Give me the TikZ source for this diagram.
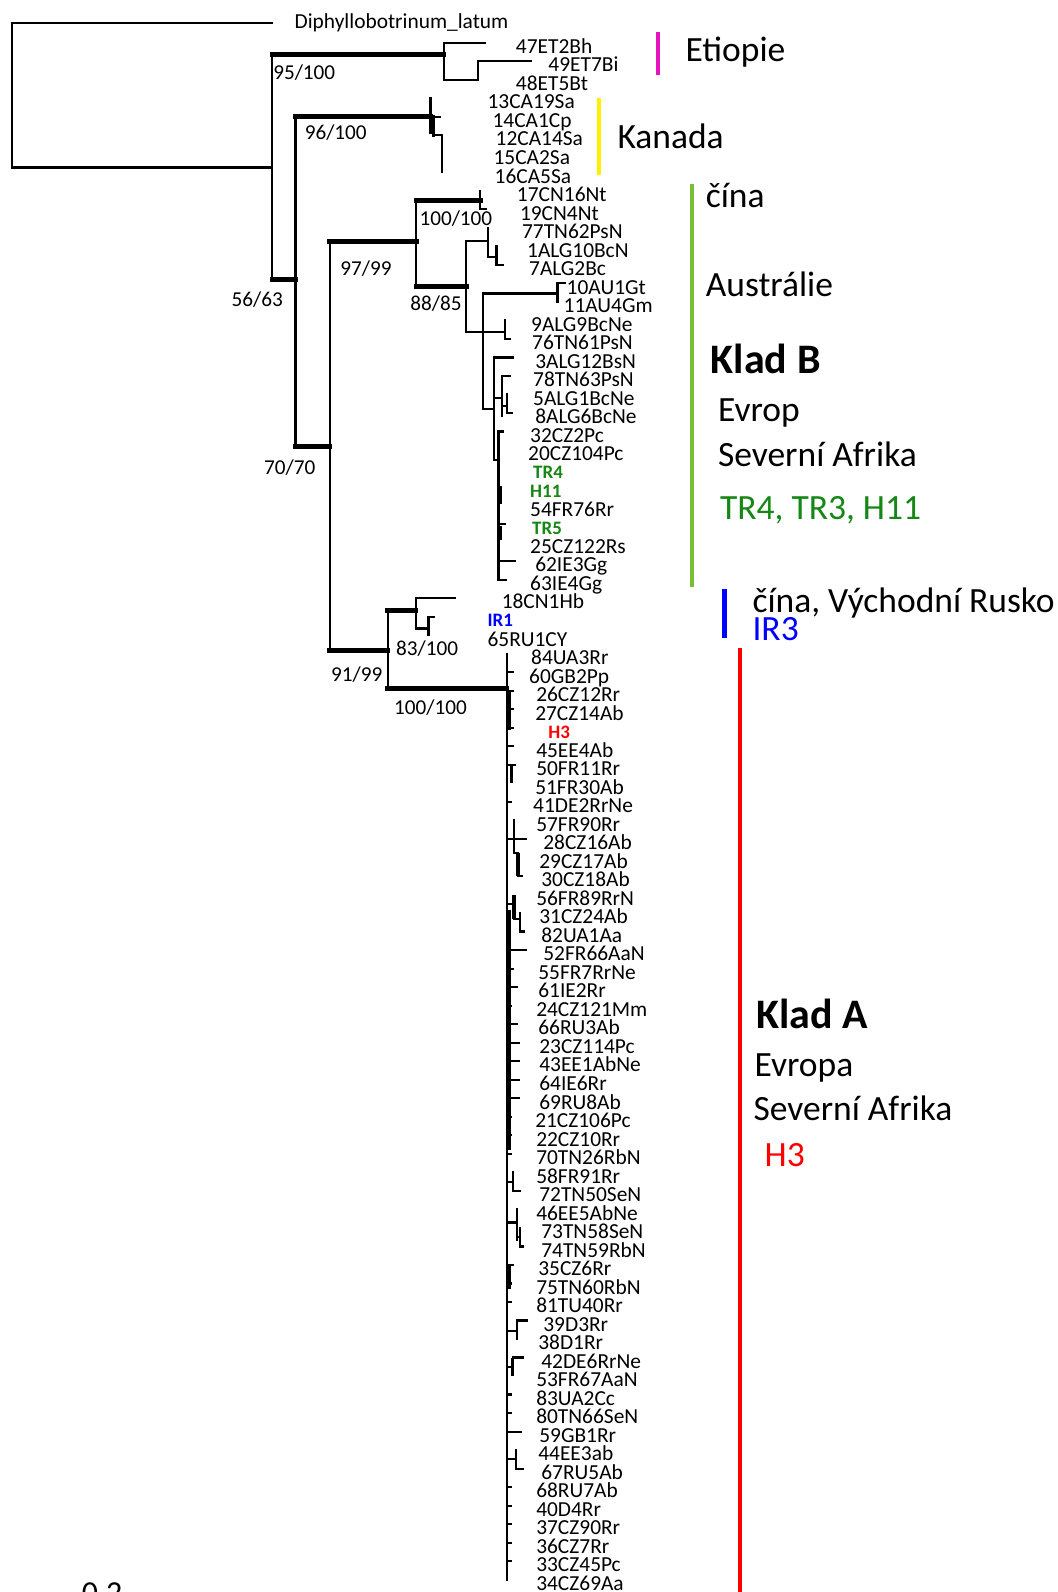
\documentclass[tikz,border=0pt]{standalone}
\usepackage{fontspec}
\setmainfont{Carlito}
\definecolor{magC}{RGB}{230,20,190}
\definecolor{yelC}{RGB}{255,240,0}
\definecolor{lgrC}{RGB}{120,190,50}
\definecolor{dgrC}{RGB}{20,135,20}
\definecolor{bluC}{RGB}{0,0,255}
\definecolor{redC}{RGB}{255,0,0}
\begin{document}
\begin{tikzpicture}[x=1.0154pt,y=-1.0154pt,
  declare function={ry(\n)=46+(\n-2)*18.24; tp(\n)=ry(\n)-4;},
  br/.style={line width=2.2pt,line cap=rect},
  tb/.style={line width=5pt,line cap=rect},
  mb/.style={line width=3.5pt,line cap=rect},
  lf/.style={anchor=base west,inner sep=0pt,font=\fontsize{21.4}{24}\selectfont},
  cl/.style={anchor=base west,inner sep=0pt,font=\fontsize{19}{22}\selectfont\bfseries},
  bs/.style={anchor=base west,inner sep=0pt,font=\fontsize{21.2}{24}\selectfont},
  ann/.style={anchor=base west,inner sep=0pt,font=\fontsize{35.5}{40}\selectfont},
  klad/.style={anchor=base west,inner sep=0pt,font=\fontsize{42}{48}\selectfont\bfseries},
  bar/.style={line width=4pt}]
\useasboundingbox (0,0) rectangle (1042,1568);
\clip (0,0) rectangle (1042,1568);
\fill[white] (0,0) rectangle (1042,1568);

% ---------- tree ----------
% root
\draw[br] (268,23) -- (12,23) -- (12,165) -- (268,165);
\draw[br] (268,54) -- (268,275);
% Etiopie
\draw[tb] (268,54) -- (437,54);
\draw[br] (478,{tp(2)}) -- (437,{tp(2)}) -- (437,{tp(4)}) -- (471,{tp(4)});
\draw[br] (471,{tp(4)}) -- (471,{tp(3)}) -- (523,{tp(3)});
% A -> B
\draw[tb] (268,275) -- (291,275);
\draw[br] (291,115) -- (291,440);
% Kanada
\draw[tb] (291,115) -- (424,115);
\draw[br] (424,{tp(5)}) -- (424,131);
\draw[br] (424,{tp(6)}) -- (433,{tp(6)});
\draw[mb] (427,{tp(6)}) -- (427,{tp(7)});
\draw[br] (427,{tp(7)}) -- (435,{tp(7)}) -- (435,{tp(9)});
% B -> C
\draw[tb] (291,440) -- (325,440);
\draw[br] (325,238) -- (325,641);
% Klad B
\draw[tb] (325,238) -- (410,238);
\draw[br] (410,197) -- (410,282);
\draw[tb] (410,197) -- (473,197);
\draw[br] (473,{tp(10)}) -- (473,{tp(11)}) -- (479,{tp(11)});
\draw[tb] (410,282) -- (459,282);
\draw[br] (459,237) -- (459,327);
\draw[br] (459,237) -- (481,237);
\draw[br] (481,{tp(12)}) -- (481,253) -- (489,253);
\draw[br] (489,{tp(13)}) -- (489,{tp(14)}) -- (495,{tp(14)});
\draw[br] (459,327) -- (497,327);
\draw[br] (497,{tp(17)}) -- (497,{tp(18)}) -- (502,{tp(18)});
\draw[br] (476,289) -- (476,403) -- (486.5,403);
\draw[br] (476,289) -- (549,289);
\draw[br] (549,{tp(15)}) -- (549,{tp(16)});
\draw[br] (549,{tp(15)}) -- (556,{tp(15)});
\draw[br] (486.5,{tp(19)}) -- (486.5,453);
\draw[br] (486.5,{tp(19)}) -- (505,{tp(19)});
\draw[br] (486.5,392) -- (494.5,392);
\draw[br] (494.5,{tp(20)}) -- (494.5,410);
\draw[br] (494.5,{tp(20)}) -- (502,{tp(20)});
\draw[br] (494.5,400) -- (499,400);
\draw[br] (499,{tp(21)}) -- (499,{tp(22)}) -- (504,{tp(22)});
\draw[br] (486.5,453) -- (491,453);
\draw[br] (491,{tp(23)}) -- (491,{tp(31)}) -- (498,{tp(31)});
\draw[br] (491,{tp(23)}) -- (495,{tp(23)});
\draw[line width=3.5pt] (493,479) -- (493,496);
\draw[line width=3.5pt] (493,518) -- (493,532);
\draw[br] (491,{tp(28)}) -- (497,{tp(28)});
\draw[br] (491,{tp(30)}) -- (507,{tp(30)});
% C -> P
\draw[tb] (325,641) -- (382,641);
\draw[br] (382,601) -- (382,678);
\draw[tb] (382,601) -- (409.5,601);
\draw[br] (448,{tp(32)}) -- (409.5,{tp(32)}) -- (409.5,619) -- (422,619);
\draw[br] (422,{tp(33)}) -- (422,{tp(34)});
\draw[br] (422,{tp(33)}) -- (427,{tp(33)});
% Klad A
\draw[tb] (382,678) -- (499,678);
\draw[br] (499,{tp(35)}) -- (499,{tp(85)});
\draw[line width=4.5pt] (501,681) -- (501,719);
\draw[line width=4.5pt] (501,896) -- (501,1133);
\draw[line width=4.5pt] (501,1247) -- (501,1270);
\foreach \r/\l in {36/6,37/6,38/6,39/6,40/6,43/4,52/6,53/10,54/4,55/10,56/12,57/12,58/12,59/12,60/4,61/4,62/4,68/6,69/4,70/4,75/4,76/4,77/14,80/4,81/4,82/4,83/4,84/4,51/19}
  \draw[br] (499,{tp(\r)}) -- ++(\l,0);
% rows 41-42
\draw[br] (499,{tp(41)}) -- (507,{tp(41)});
\draw[line width=3.5pt] (504,{tp(41)}) -- (504,{tp(42)});
% rows 44-47
\draw[br] (499,826) -- (506,826);
\draw[br] (506,{tp(44)}) -- (506,840);
\draw[br] (506,{tp(45)}) -- (518,{tp(45)});
\draw[br] (506,840) -- (510,840);
\draw[line width=3.5pt] (510,{tp(46)-4}) -- (510,{tp(47)});
\draw[br] (510,{tp(47)}) -- (514,{tp(47)});
% rows 48-50
\draw[br] (499,890) -- (506,890);
\draw[line width=3.5pt] (506,{tp(48)}) -- (506,905);
\draw[br] (506,905) -- (512,905);
\draw[br] (512,{tp(49)}) -- (512,{tp(50)}) -- (516,{tp(50)});
% rows 63-64
\draw[br] (499,1164) -- (505,1164);
\draw[br] (505,{tp(63)}) -- (505,{tp(64)}) -- (512,{tp(64)});
% rows 65-67
\draw[br] (499,1204) -- (509,1204);
\draw[br] (509,{tp(65)}) -- (509,1221);
\draw[br] (509,1218) -- (512,1218);
\draw[br] (512,{tp(66)}) -- (512,{tp(67)}) -- (515,{tp(67)});
% rows 71-72
\draw[br] (499,1311) -- (509,1311);
\draw[br] (509,{tp(71)}) -- (509,{tp(72)});
\draw[br] (509,{tp(71)}) -- (519,{tp(71)});
% rows 73-74
\draw[br] (499,1346) -- (505,1346);
\draw[line width=3.5pt] (505,{tp(73)}) -- (505,{tp(74)});
\draw[br] (505,{tp(73)}) -- (515,{tp(73)});
% rows 78-79
\draw[br] (499,1437) -- (508,1437);
\draw[br] (508,{tp(78)}) -- (508,{tp(79)}) -- (515,{tp(79)});

% ---------- bootstrap values ----------
\node[bs] (b1) at (269,78.4) {95/100};
\node[bs] (b2) at (300,137.4) {96/100};
\node[bs] (b3) at (228,301.4) {56/63};
\node[bs] (b4) at (413,222.4) {100/100};
\node[bs] (b5) at (335,271.4) {97/99};
\node[bs] (b6) at (404,305.4) {88/85};
\node[bs] (b7) at (260,467.4) {70/70};
\node[bs] (b8) at (390,645.4) {83/100};
\node[bs] (b9) at (326,671.4) {91/99};
\node[bs] (b10) at (388,703.4) {100/100};

% ---------- leaf labels ----------
\node[lf] (lf1) at (290,28.4) {Diphyllobotrinum\_latum};
\foreach \n/\xx/\t in {2/508/47ET2Bh,3/540/49ET7Bi,4/508/48ET5Bt,5/480/13CA19Sa,6/485/14CA1Cp,
  7/488/12CA14Sa,8/486/15CA2Sa,9/487/16CA5Sa,10/509/17CN16Nt,11/512/19CN4Nt,12/514/77TN62PsN,
  13/519/1ALG10BcN,14/521/7ALG2Bc,15/558/10AU1Gt,16/555/11AU4Gm,17/523/9ALG9BcNe,18/524/76TN61PsN,
  19/527/3ALG12BsN,20/525/78TN63PsN,21/525/5ALG1BcNe,22/527/8ALG6BcNe,23/522/32CZ2Pc,24/520/20CZ104Pc,
  27/522/54FR76Rr,29/522/25CZ122Rs,30/527/62IE3Gg,31/522/63IE4Gg,32/494/18CN1Hb,34/480/65RU1CY,
  35/523/84UA3Rr,36/521/60GB2Pp,37/528/26CZ12Rr,38/527/27CZ14Ab,40/528/45EE4Ab,41/528/50FR11Rr,
  42/527/51FR30Ab,43/525/41DE2RrNe,44/528/57FR90Rr,45/535/28CZ16Ab,46/531/29CZ17Ab,47/533/30CZ18Ab,
  48/528/56FR89RrN,49/531/31CZ24Ab,50/533/82UA1Aa,51/535/52FR66AaN,52/530/55FR7RrNe,53/530/61IE2Rr,
  54/528/24CZ121Mm,55/530/66RU3Ab,56/531/23CZ114Pc,57/531/43EE1AbNe,58/531/64IE6Rr,59/531/69RU8Ab,
  60/527/21CZ106Pc,61/528/22CZ10Rr,62/528/70TN26RbN,63/528/58FR91Rr,64/531/72TN50SeN,65/528/46EE5AbNe,
  66/533/73TN58SeN,67/533/74TN59RbN,68/530/35CZ6Rr,69/528/75TN60RbN,70/528/81TU40Rr,71/535/39D3Rr,
  72/530/38D1Rr,73/533/42DE6RrNe,74/528/53FR67AaN,75/528/83UA2Cc,76/528/80TN66SeN,77/531/59GB1Rr,
  78/530/44EE3ab,79/533/67RU5Ab,80/528/68RU7Ab,81/528/40D4Rr,82/528/37CZ90Rr,83/528/36CZ7Rr,
  84/528/33CZ45Pc,85/528/34CZ69Aa}
  \node[lf] (lf\n) at (\xx,{ry(\n)+6.6}) {\t};
\node[cl,text=dgrC] (lf25) at (525,{ry(25)+6}) {TR4};
\node[cl,text=dgrC] (lf26) at (522,{ry(26)+6}) {H11};
\node[cl,text=dgrC] (lf28) at (524,{ry(28)+6}) {TR5};
\node[cl,text=bluC] (lf33) at (480,{ry(33)+6}) {IR1};
\node[cl,text=redC] (lf39) at (540,{ry(39)+6}) {H3};

% ---------- annotations ----------
\draw[bar,magC] (648,32) -- (648,74);
\node[ann] (etio) at (675,61) {Etiopie};
\draw[bar,yelC] (590,97) -- (590,172);
\node[ann] (kan) at (608,146) {Kanada};
\draw[bar,lgrC] (682,181) -- (682,578);
\node[ann] (cina1) at (695,204) {čína};
\node[ann] (aus) at (695,292) {Austrálie};
\node[klad] (kladb) at (700,368) {Klad B};
\node[ann] (evb) at (707,415) {Evrop};
\node[ann] (safb) at (707,459) {Severní Afrika};
\node[ann,text=dgrC] (trb) at (709,512) {TR4, TR3, H11};
\draw[line width=5pt,bluC] (714,580) -- (714,628);
\node[ann] (cina2) at (741,603) {čína, Východní Rusko};
\node[ann,text=bluC] (ir3) at (741,631) {IR3};
\draw[bar,redC] (729,638) -- (729,1570);
\node[klad] (klada) at (745,1013) {Klad A};
\node[ann] (eva) at (743,1060) {Evropa};
\node[ann] (safa) at (742,1104) {Severní Afrika};
\node[ann,text=redC] (h3) at (753,1149) {H3};
\node[anchor=base west,inner sep=0pt,font=\fontsize{32}{38}\selectfont] (scl) at (80.5,1579) {0.2};
\end{tikzpicture}
\end{document}
